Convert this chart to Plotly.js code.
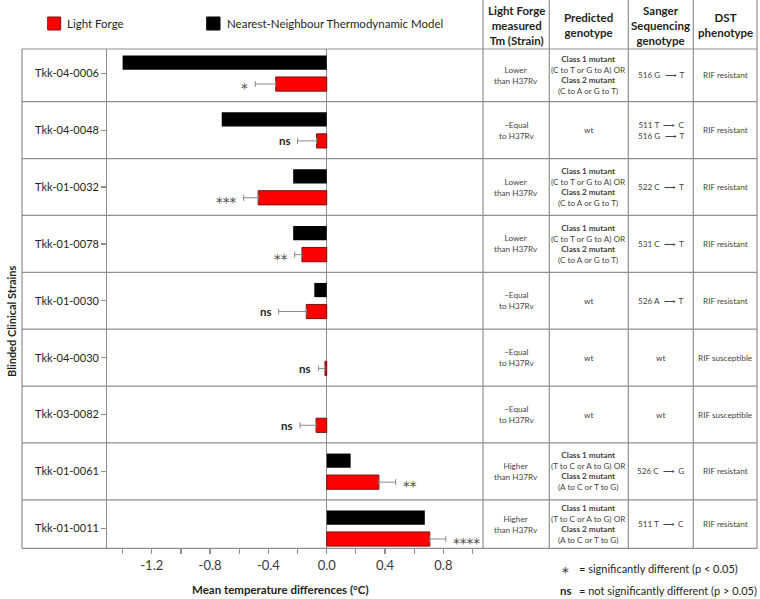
<!DOCTYPE html>
<html>
<head>
<meta charset="utf-8">
<script src="https://cdn.plot.ly/plotly-3.0.1.min.js"></script>
<style>html,body{margin:0;padding:0;background:#fff;}#chart{width:760px;height:599px;}</style>
</head>
<body>
<div id="chart"></div>
<script>
// ---------- DATA ----------
const strains = ['Tkk-04-0006','Tkk-04-0048','Tkk-01-0032','Tkk-01-0078','Tkk-01-0030','Tkk-04-0030','Tkk-03-0082','Tkk-01-0061','Tkk-01-0011'];
const nearestNeighbour = [-1.40, -0.72, -0.23, -0.23, -0.085, 0, 0, 0.164, 0.673];
const lightForge = [-0.35, -0.07, -0.47, -0.17, -0.14, -0.012, -0.073, 0.358, 0.707];
const lightForgeErr = [0.14, 0.13, 0.10, 0.05, 0.19, 0.045, 0.11, 0.115, 0.11];
const significance = ['*', 'ns', '***', '**', 'ns', 'ns', 'ns', '**', '****'];
const xTickVals = [-1.4, -1.2, -1.0, -0.8, -0.6, -0.4, -0.2, 0.0, 0.2, 0.4, 0.6, 0.8, 1.0];
const xTickText = ['', '-1.2', '', '-0.8', '', '-0.4', '', '0.0', '', '0.4', '', '0.8', ''];
const tableHeaders = ['Light Forge<br>measured<br>Tm (Strain)', 'Predicted<br>genotype', 'Sanger<br>Sequencing<br>genotype', 'DST<br>phenotype'];
const lowerMut = '<b>Class 1 mutant</b><br>(C to T or G to A) OR<br><b>Class 2 mutant</b><br>(C to A or G to T)';
const higherMut = '<b>Class 1 mutant</b><br>(T to C or A to G) OR<br><b>Class 2 mutant</b><br>(A to C or T to G)';
const measuredTm = ['Lower<br>than H37Rv', '~Equal<br>to H37Rv', 'Lower<br>than H37Rv', 'Lower<br>than H37Rv', '~Equal<br>to H37Rv', '~Equal<br>to H37Rv', '~Equal<br>to H37Rv', 'Higher<br>than H37Rv', 'Higher<br>than H37Rv'];
const predictedGenotype = [lowerMut, 'wt', lowerMut, lowerMut, 'wt', 'wt', 'wt', higherMut, higherMut];
const sangerGenotype = ['516 G  ⟶  T', '511 T  ⟶  C<br>516 G  ⟶  T', '522 C  ⟶  T', '531 C  ⟶  T', '526 A  ⟶  T', 'wt', 'wt', '526 C  ⟶  G', '511 T  ⟶  C'];
const dstPhenotype = ['RIF resistant', 'RIF resistant', 'RIF resistant', 'RIF resistant', 'RIF resistant', 'RIF susceptible', 'RIF susceptible', 'RIF resistant', 'RIF resistant'];
const legendNames = ['Light Forge', 'Nearest-Neighbour Thermodynamic Model'];

// ---------- LAYOUT CONSTANTS ----------
const W = 760, H = 599;
const FONT = 'Lato, "Open Sans", sans-serif';
const STARFONT = '"DejaVu Sans", sans-serif';
const px = v => v / W;            // x pixel -> paper
const py = v => (H - v) / H;      // y pixel (from top) -> paper
const yRange = [8.352, -0.427];
const xRange = [-1.505, 1.072];
const BARGAP = 0.244;
const LINE = '#8f8f8f';

const traces = [
  {
    type: 'bar', orientation: 'h', name: legendNames[1],
    y: strains, x: nearestNeighbour,
    marker: {color: '#000000', line: {width: 0}},
    showlegend: false, hoverinfo: 'x+y'
  },
  {
    type: 'bar', orientation: 'h', name: legendNames[0],
    y: strains, x: lightForge,
    marker: {color: '#ff0000', line: {color: '#7a1010', width: 1}},
    error_x: {
      type: 'data', symmetric: false,
      array: lightForge.map((v, i) => v >= 0 ? lightForgeErr[i] : 0),
      arrayminus: lightForge.map((v, i) => v < 0 ? lightForgeErr[i] : 0),
      color: '#8a8a8a', thickness: 1, width: 3
    },
    showlegend: false, hoverinfo: 'x+y'
  }
];

const shapes = [];
const annotations = [];
const line = (o) => shapes.push(Object.assign({type: 'line', line: {color: LINE, width: 1.2}, layer: 'above'}, o));

// outer frame & table lines
const topY = py(49), botY = py(548.3);
line({xref: 'paper', yref: 'paper', x0: px(22), x1: px(757), y0: topY, y1: topY});
line({xref: 'paper', yref: 'paper', x0: px(22), x1: px(757), y0: botY, y1: botY});
line({xref: 'paper', yref: 'paper', x0: px(22), x1: px(22), y0: botY, y1: topY});
[483, 549.3, 628.3, 693.3, 757].forEach(xp => line({xref: 'paper', yref: 'paper', x0: px(xp), x1: px(xp), y0: botY, y1: 1}));
for (let i = 0; i < strains.length - 1; i++) {
  line({xref: 'paper', yref: 'y', x0: px(22), x1: px(757), y0: i + 0.5, y1: i + 0.5});
}

// legend
shapes.push({type: 'rect', xref: 'paper', yref: 'paper', x0: px(47.7), x1: px(60.7), y0: py(30), y1: py(17), fillcolor: '#ff0000', line: {color: '#7a1010', width: 1}});
shapes.push({type: 'rect', xref: 'paper', yref: 'paper', x0: px(206.7), x1: px(220), y0: py(30), y1: py(17), fillcolor: '#000000', line: {color: '#000000', width: 1}});
annotations.push({xref: 'paper', yref: 'paper', x: px(65), y: py(23.5), text: legendNames[0], showarrow: false, xanchor: 'left', yanchor: 'middle', font: {family: FONT, size: 11.5, color: '#231f20'}});
annotations.push({xref: 'paper', yref: 'paper', x: px(225), y: py(23.5), text: legendNames[1], showarrow: false, xanchor: 'left', yanchor: 'middle', font: {family: FONT, size: 11.5, color: '#231f20'}});

// significance labels
const redOffset = (1 - BARGAP) / 4;
strains.forEach((s, i) => {
  const v = lightForge[i];
  const end = v >= 0 ? v + lightForgeErr[i] : v - lightForgeErr[i];
  const isNs = significance[i] === 'ns';
  annotations.push({
    xref: 'x', yref: 'y', x: end, y: i + redOffset,
    text: isNs ? '<b>ns</b>' : significance[i],
    showarrow: false, xanchor: v >= 0 ? 'left' : 'right', yanchor: 'middle',
    xshift: v >= 0 ? 5 : -5, yshift: isNs ? 0 : -4,
    font: isNs ? {family: FONT, size: 11.5, color: '#231f20'} : {family: STARFONT, size: 13.5, color: '#4d4d4d'}
  });
});

// table headers
const colCenters = [516, 588.8, 660.8, 725.2];
tableHeaders.forEach((t, c) => {
  annotations.push({xref: 'paper', yref: 'paper', x: px(colCenters[c]), y: py(25), text: '<b>' + t + '</b>', showarrow: false, xanchor: 'center', yanchor: 'middle', align: 'center', font: {family: FONT, size: 11.5, color: '#231f20'}});
});

// table cells
const cellCenter = i => (Math.max(i - 0.5, yRange[1]) + Math.min(i + 0.5, yRange[0])) / 2;
const columns = [measuredTm, predictedGenotype, sangerGenotype, dstPhenotype];
columns.forEach((col, c) => {
  col.forEach((t, i) => {
    annotations.push({xref: 'paper', yref: 'y', x: px(colCenters[c]), y: cellCenter(i), text: t, showarrow: false, xanchor: 'center', yanchor: 'middle', align: 'center', font: {family: FONT, size: 8.2, color: '#444444'}});
  });
});

// axis titles
annotations.push({xref: 'paper', yref: 'paper', x: px(280.5), y: py(589), text: '<b>Mean temperature differences (°C)</b>', showarrow: false, xanchor: 'center', yanchor: 'middle', font: {family: FONT, size: 11.5, color: '#231f20'}});
annotations.push({xref: 'paper', yref: 'paper', x: px(11), y: py(321), text: '<b>Blinded Clinical Strains</b>', textangle: -90, showarrow: false, xanchor: 'center', yanchor: 'middle', font: {family: FONT, size: 11, color: '#231f20'}});

// footnotes
annotations.push({xref: 'paper', yref: 'paper', x: px(565), y: py(568), yshift: -4, text: '*', showarrow: false, xanchor: 'center', yanchor: 'middle', font: {family: STARFONT, size: 13.5, color: '#333333'}});
annotations.push({xref: 'paper', yref: 'paper', x: px(577), y: py(568), text: '= significantly different (p < 0.05)', showarrow: false, xanchor: 'left', yanchor: 'middle', font: {family: FONT, size: 11, color: '#231f20'}});
annotations.push({xref: 'paper', yref: 'paper', x: px(566), y: py(590), text: '<b>ns</b>', showarrow: false, xanchor: 'center', yanchor: 'middle', font: {family: FONT, size: 11.5, color: '#231f20'}});
annotations.push({xref: 'paper', yref: 'paper', x: px(577), y: py(590), text: '= not significantly different (p > 0.05)', showarrow: false, xanchor: 'left', yanchor: 'middle', font: {family: FONT, size: 11, color: '#231f20'}});

const layout = {
  width: W, height: H,
  margin: {l: 0, r: 0, t: 0, b: 0},
  paper_bgcolor: '#ffffff', plot_bgcolor: '#ffffff',
  barmode: 'group', bargap: BARGAP, bargroupgap: 0.34,
  showlegend: false,
  font: {family: FONT, color: '#231f20'},
  xaxis: {
    domain: [px(107.3), px(483)], range: xRange, automargin: false,
    tickmode: 'array', tickvals: xTickVals, ticktext: xTickText,
    ticks: 'outside', ticklen: 5, tickcolor: LINE, tickwidth: 1.2,
    showgrid: false, showline: false,
    zeroline: true, zerolinecolor: LINE, zerolinewidth: 1.2,
    tickfont: {family: FONT, size: 13, color: '#3a3a3a'},
    fixedrange: true
  },
  yaxis: {
    domain: [py(548.3), py(49)], range: yRange, automargin: false,
    type: 'category', categoryorder: 'array', categoryarray: strains,
    ticks: 'outside', ticklen: 5, tickcolor: LINE, tickwidth: 1.2,
    showgrid: false, showline: true, linecolor: LINE, linewidth: 1.2,
    zeroline: false,
    tickfont: {family: FONT, size: 11, color: '#231f20'},
    fixedrange: true
  },
  shapes: shapes,
  annotations: annotations
};

Plotly.newPlot('chart', traces, layout, {displayModeBar: false, staticPlot: true});
</script>
</body>
</html>
